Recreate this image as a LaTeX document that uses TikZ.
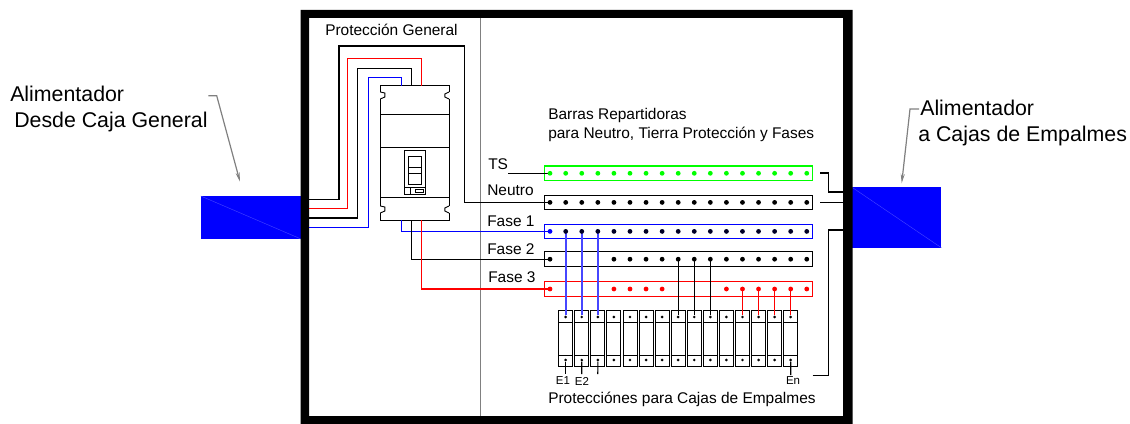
\documentclass[tikz,border=0pt]{standalone}
\usepackage{fontspec}
\setmainfont{Liberation Sans}
\usetikzlibrary{arrows.meta,calc}
\definecolor{wblue}{RGB}{0,0,255}
\definecolor{wred}{RGB}{255,0,0}
\definecolor{wgreen}{RGB}{0,255,0}
\definecolor{lineblue}{RGB}{70,70,255}
\definecolor{darrow}{RGB}{128,128,128}
\tikzset{
  busbar/.style={draw=#1,line width=0.85pt,fill=none,minimum width=201.6pt,minimum height=11pt,inner sep=0pt,anchor=west},
  busdot/.style={circle,fill=#1,draw=none,minimum size=3.6pt,inner sep=0pt},
  smalldot/.style={circle,fill=black,draw=none,minimum size=2.2pt,inner sep=0pt},
  wire/.style={line width=0.85pt,draw=#1},
  fatwire/.style={line width=1.3pt,draw=#1},
  thinline/.style={line width=0.7pt,draw=black},
  pole/.style={draw=black,line width=0.7pt,minimum width=10.5pt,minimum height=41.8pt,inner sep=0pt},
  big/.style={font=\fontsize{16pt}{18pt}\selectfont,anchor=west,inner sep=0pt},
  mid/.style={font=\fontsize{11.6pt}{13pt}\selectfont,anchor=west,inner sep=0pt},
  lab/.style={font=\fontsize{8.6pt}{10pt}\selectfont,inner sep=0pt},
  feeder/.style={fill=wblue,draw=none},
  pointer/.style={draw=darrow,line width=0.9pt,-{Stealth[length=7pt,width=3pt]}},
}
\begin{document}
\begin{tikzpicture}[x=0.75pt,y=-0.75pt]
\useasboundingbox (0,0) rectangle (1130,424);
% feeders
\fill[feeder] (200.7,196) rectangle (301,239);
\draw[lineblue,line width=0.3pt] (200.7,196) -- (301,239);
\fill[feeder] (852,187.3) rectangle (941.3,247.7);
\draw[lineblue,line width=0.3pt] (852,187.3) -- (941.3,247.7);
% enclosure
\fill[black,even odd rule] (300.7,10) rectangle (852.7,424) (309,18) rectangle (843,416);
\draw[draw=darrow,line width=0.9pt] (480.3,18) -- (480.3,416);
% bars
\node[busbar=wgreen] (bts) at (543.5,173.3) {};
\node[busbar=black] (bn) at (543.5,202.4) {};
\node[busbar=wblue] (bf1) at (543.5,231.4) {};
\node[busbar=black] (bf2) at (543.5,259.2) {};
\node[busbar=wred] (bf3) at (543.5,289) {};
% dots
\foreach \k in {0,...,16}{
  \pgfmathsetmacro{\xx}{\k==0?550:565.7+(\k-1)*16.07}
  \coordinate (cts\k) at (\xx,173.3);
  \coordinate (cn\k) at (\xx,202.4);
  \coordinate (cf1\k) at (\xx,231.4);
  \coordinate (cf2\k) at (\xx,259.2);
  \coordinate (cf3\k) at (\xx,289);
}
% poles
\foreach \k in {1,...,15}{
  \pgfmathsetmacro{\xx}{565.7+(\k-1)*16.07}
  \node[pole] (p\k) at (\xx,338.8) {};
  \draw[thinline] ($(p\k.north west)+(0,11.7)$) -- ($(p\k.north east)+(0,11.7)$);
  \draw[thinline] ($(p\k.south west)+(0,-12)$) -- ($(p\k.south east)+(0,-12)$);
  \node[smalldot] (pt\k) at (\xx,317) {};
  \node[smalldot] (pb\k) at (\xx,360) {};
}
% main breaker
\node[draw=black,line width=0.7pt,minimum width=51.5pt,minimum height=100.7pt,inner sep=0pt] (pg) at (414.65,152.85) {};
\foreach \yy in {95.5,209.5}{
  \fill[white] (378,\yy-3.5) rectangle (385,\yy+3.5);
  \fill[white] (445,\yy-3.5) rectangle (452,\yy+3.5);
  \draw[thinline] (380.3,\yy-3.5) -- (384.8,\yy-2.5) -- (384.8,\yy+1.5) -- (380.3,\yy+3.5);
  \draw[thinline] (449,\yy-3.5) -- (444.8,\yy-1.5) -- (444.8,\yy+1.5) -- (449,\yy+3.5);
}
\draw[thinline] (380.3,114.3) -- (449,114.3);
\draw[thinline] (380.3,147.3) -- (449,147.3);
\draw[thinline] (380.3,197) -- (449,197);
\draw[thinline] (404.3,150) rectangle (425,194.3);
\draw[thinline] (408,156.7) rectangle (421,184.3);
\draw[thinline] (408,167.7) -- (421,167.7);
\draw[thinline] (408,173.7) -- (421,173.7);
\draw[thinline] (404.3,187.7) -- (425,187.7);
\draw[thinline] (410.3,187.7) -- (410.3,194.3);
\draw[thinline] (415,189) rectangle (423.3,192.7);
% wire ends
\coordinate (w1) at (309,199.3);
\coordinate (w2) at (309,208.7);
\coordinate (w3) at (309,218);
\coordinate (w4) at (309,227.3);
\coordinate (pgb) at (401.3,85.7);
\coordinate (pgk) at (411.7,85.7);
\coordinate (pgr) at (421.7,85.7);
\coordinate (pbb) at (401.3,220);
\coordinate (pbk) at (411.7,220);
\coordinate (pbr) at (421.7,220);
\coordinate (tsl) at (508.3,173.3);
% feed wires
\draw[wire=black] (w1) -| (339,46) -| (464.7,202.4) -- (cn0);
\draw[wire=wred] (w2) -| (347.3,58.7) -| (pgr);
\draw[wire=black] (w3) -| (357.7,68.3) -| (pgk);
\draw[wire=wblue] (w4) -| (368.3,77.7) -| (pgb);
\draw[wire=wblue] (pbb) |- (cf10);
\draw[wire=black] (pbk) |- (cf20);
\draw[wire=wred] (pbr) |- (cf30);
\draw[wire=black] (tsl) -- (cts0);
% drops
\foreach \k/\p in {1/1,2/2,3/3}{ \draw[fatwire=lineblue] (cf1\k) -- (pt\p); }
\foreach \k/\p in {8/8,9/9,10/10}{ \draw[wire=black] (cf2\k) -- (pt\p); }
\foreach \k/\p in {12/12,13/13,14/14,15/15}{ \draw[wire=wred] (cf3\k) -- (pt\p); }
% bus dots
\foreach \k in {0,...,16}{
  \node[busdot=wgreen] at (cts\k) {};
  \node[busdot=black] at (cn\k) {};
  \ifnum\k=0
    \node[busdot=wblue] at (cf1\k) {};
  \else
    \node[circle,fill=black!85!blue,minimum size=3.6pt,inner sep=0pt] at (cf1\k) {};
  \fi
}
\foreach \k in {0,4,5,...,16}{ \node[busdot=black] at (cf2\k) {}; }
\foreach \k in {0,4,5,6,7,11,12,...,16}{ \node[busdot=wred] at (cf3\k) {}; }
% outgoing
\coordinate (s1) at (565.7,374);
\coordinate (s2) at (581.8,374);
\coordinate (s3) at (597.8,374);
\coordinate (sn) at (790.7,375);
\draw[wire=black] (pb1) -- (s1);
\draw[wire=black] (pb2) -- (s2);
\draw[wire=black] (pb3) -- (s3);
\draw[wire=black] (pb15) -- (sn);
% right wires
\coordinate (r1) at (820.3,173);
\coordinate (r1e) at (843,192);
\coordinate (r2) at (820.3,202.6);
\coordinate (r2e) at (843,202.6);
\coordinate (r3) at (812.7,375.7);
\coordinate (r3e) at (843,230);
\draw[wire=black] (r1) -| (828.3,192) -- (r1e);
\draw[wire=black] (r2) -- (r2e);
\draw[wire=black] (r3) -| (828.3,230) -- (r3e);
% pointers
\coordinate (al1) at (208.3,95.7);
\coordinate (al1t) at (240,181.7);
\coordinate (al2) at (919,109);
\coordinate (al2t) at (901.7,183.3);
\draw[pointer] (al1) -- (216.7,95.7) -- (al1t);
\draw[pointer] (al2) -- (910,109) -- (al2t);
% texts
\node[big] (t1) at (10,94) {Alimentador};
\node[big] (t2) at (14,121.5) {Desde Caja General};
\node[big] (t3) at (920,108) {Alimentador};
\node[big] (t4) at (918,135.5) {a Cajas de Empalmes};
\node[mid] (t5) at (325,30) {Protección General};
\node[mid] (t6) at (548,116) {Barras Repartidoras};
\node[mid] (t7) at (548,134.5) {para Neutro, Tierra Protección y Fases};
\node[mid] (t8) at (548,399) {Protecciónes para Cajas de Empalmes};
\node[mid] (l1) at (488,164) {TS};
\node[mid] (l2) at (487,190) {Neutro};
\node[mid] (l3) at (487,221) {Fase 1};
\node[mid] (l4) at (487,249) {Fase 2};
\node[mid] (l5) at (488,277) {Fase 3};
\node[lab] (e1) at (563,381) {E1};
\node[lab] (e2) at (582,381) {E2};
\node[lab] (en) at (793,381) {En};
\end{tikzpicture}
\end{document}
